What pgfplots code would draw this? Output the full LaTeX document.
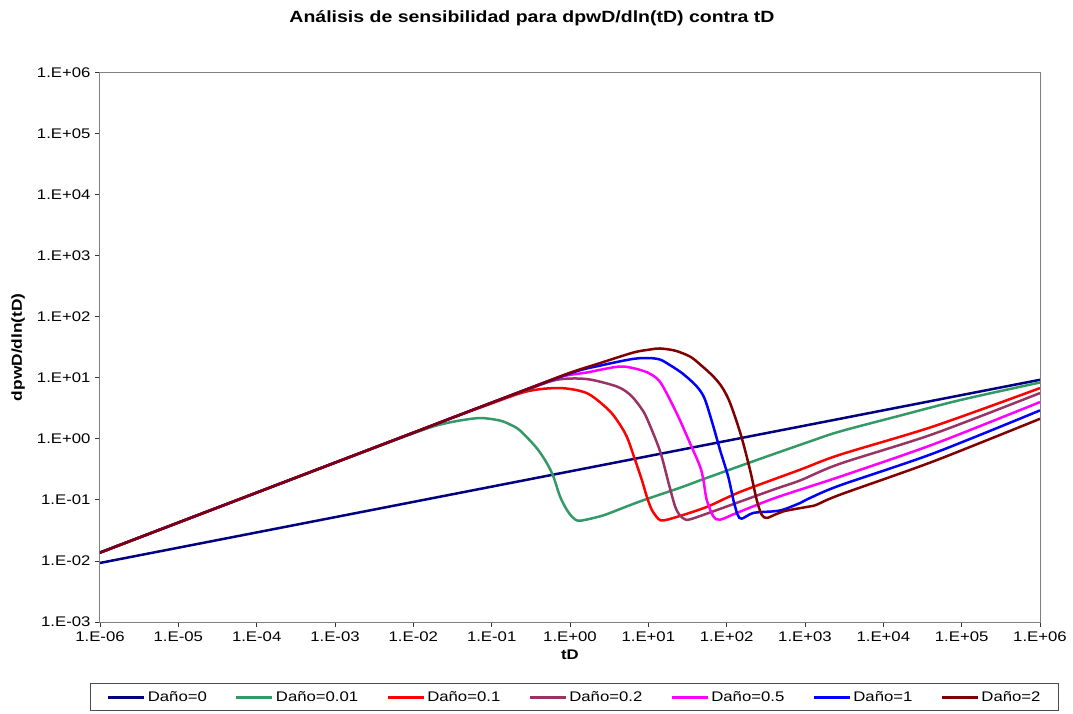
\documentclass[border=0pt]{standalone}
\usepackage{fontspec}
\setmainfont{Liberation Sans}[FakeStretch=1.2]
\usepackage{pgfplots}
\pgfplotsset{compat=1.18}
\definecolor{cA}{RGB}{0,0,128}
\definecolor{cB}{RGB}{51,153,102}
\definecolor{cC}{RGB}{255,0,0}
\definecolor{cD}{RGB}{153,51,102}
\definecolor{cE}{RGB}{255,0,255}
\definecolor{cF}{RGB}{0,0,255}
\definecolor{cG}{RGB}{128,0,0}
\begin{document}
\begin{tikzpicture}
\path[use as bounding box] (0bp,0bp) rectangle (1073bp,714bp);
\node[font=\fontsize{16.3}{19}\selectfont\bfseries] at (532bp,696bp) {Análisis de sensibilidad para dpwD/dln(tD) contra tD};
\begin{axis}[
  at={(100bp,92bp)}, anchor=south west, scale only axis,
  width=940bp, height=549.5bp,
  xmode=log, ymode=log,
  xmin=1e-6, xmax=1e6, ymin=1e-3, ymax=1e6,
  xtick={1e-6,1e-5,1e-4,1e-3,1e-2,1e-1,1,1e1,1e2,1e3,1e4,1e5,1e6},
  xticklabels={1.E-06,1.E-05,1.E-04,1.E-03,1.E-02,1.E-01,1.E+00,1.E+01,1.E+02,1.E+03,1.E+04,1.E+05,1.E+06},
  ytick={1e-3,1e-2,1e-1,1,1e1,1e2,1e3,1e4,1e5,1e6},
  yticklabels={1.E-03,1.E-02,1.E-01,1.E+00,1.E+01,1.E+02,1.E+03,1.E+04,1.E+05,1.E+06},
  xminorticks=false, yminorticks=false,
  tick pos=left, tick align=outside, major tick length=5bp,
  every tick/.style={black!80, line width=0.8bp},
  axis line style={draw=black!50, line width=1bp},
  ticklabel style={font=\fontsize{14}{16}\selectfont},
  xticklabel style={yshift=-1bp},
  yticklabel style={xshift=-1bp},
  xlabel={tD},
  ylabel={dpwD/dln(tD)},
  every axis x label/.style={at={(axis description cs:0.5,-0.06)}, anchor=center, font=\fontsize{14}{16}\selectfont\bfseries},
  every axis y label/.style={at={(axis description cs:-0.087,0.5)}, rotate=90, anchor=center, font=\fontsize{14.5}{16}\selectfont\bfseries},
  legend columns=7,
  legend style={at={(0.505,-0.111)}, anchor=north, draw=black!70, line width=0.8bp,
    font=\fontsize{14}{16}\selectfont, inner xsep=16bp, inner ysep=6bp,
    /tikz/every even column/.append style={column sep=26bp}},
  legend image code/.code={\draw[#1, line width=3bp] (0bp,0bp) -- (36bp,0bp);},
  every axis plot/.append style={line width=2.5bp, smooth, tension=0.5, no markers},
]
\addplot[cA] coordinates {(1e-6,0.00927) (1e-5,0.01648) (1e-4,0.0293) (1e-3,0.0521) (1e-2,0.0927) (1e-1,0.1648) (1,0.293) (10,0.521) (100,0.927) (1e3,1.648) (1e4,2.93) (1e5,5.21) (1e6,9.27)};
\addlegendentry{Daño=0}
\addplot[cB] coordinates {(1e-6,0.0137) (1e-5,0.0425) (1e-4,0.1315) (1e-3,0.407) (0.00316,0.708) (0.00676,1.023) (0.0180,1.596) (0.0355,1.95) (0.0710,2.19) (0.126,2.0) (0.171,1.72) (0.230,1.37) (0.376,0.706) (0.505,0.402) (0.612,0.243) (0.746,0.114) (0.908,0.0692) (1.102,0.0506) (1.343,0.0456) (2.415,0.0537) (3.24,0.0611) (7.83,0.0944) (25.4,0.158) (45.7,0.209) (55.6,0.229) (251,0.457) (1159,0.908) (2799,1.321) (16330,2.40) (1e5,4.37) (1e6,8.37)};
\addlegendentry{Daño=0.01}
\addplot[cC] coordinates {(1e-6,0.0137) (1e-5,0.0425) (1e-4,0.1315) (1e-3,0.407) (0.01,1.26) (0.0316,2.22) (0.0782,3.39) (0.280,5.97) (0.746,6.78) (1.633,5.62) (2.944,3.19) (3.945,2.056) (5.297,1.094) (6.761,0.455) (8.241,0.214) (9.55,0.114) (11.04,0.0692) (13.40,0.0490) (15.52,0.0461) (23.0,0.0525) (55.6,0.0766) (148.3,0.135) (865,0.312) (2799,0.550) (43450,1.596) (1e6,6.78)};
\addlegendentry{Daño=0.1}
\addplot[cD] coordinates {(1e-6,0.0137) (1e-5,0.0425) (1e-4,0.1315) (1e-3,0.407) (0.01,1.26) (0.1,3.91) (0.280,6.31) (0.676,9.27) (1.633,9.53) (3.945,7.21) (5.83,5.3) (7.83,3.39) (9.55,2.19) (14.09,0.631) (18.20,0.186) (21.88,0.0794) (25.1,0.0562) (29.5,0.0479) (33.9,0.0479) (55.6,0.0594) (394,0.147) (865,0.208) (2799,0.391) (43450,1.20) (1e6,5.62)};
\addlegendentry{Daño=0.2}
\addplot[cE] coordinates {(1e-6,0.0137) (1e-5,0.0425) (1e-4,0.1315) (1e-3,0.407) (0.01,1.26) (0.1,3.91) (0.316,6.88) (0.794,10.5) (1.633,12.2) (4.355,15.3) (7.83,13.5) (9.55,12.4) (14.09,8.6) (22.96,2.64) (34.0,0.853) (45.7,0.353) (50.4,0.214) (55.6,0.1007) (67.6,0.0537) (82.2,0.0474) (134.3,0.0611) (394,0.105) (1159,0.166) (2799,0.240) (43450,0.813) (1e6,4.0)};
\addlegendentry{Daño=0.5}
\addplot[cF] coordinates {(1e-6,0.0137) (1e-5,0.0425) (1e-4,0.1315) (1e-3,0.407) (0.01,1.26) (0.1,3.91) (1,11.8) (2.415,15.8) (6.43,20.4) (10.5,21.0) (14.09,19.9) (17.18,17.4) (25.4,12.6) (34.0,9.27) (44.0,6.6) (53.0,4.37) (67.6,1.60) (82.2,0.66) (104.7,0.240) (121.6,0.1007) (138.0,0.0575) (155.2,0.0492) (218.8,0.0611) (394,0.0649) (528,0.0692) (865,0.0889) (1159,0.1074) (2799,0.173) (43450,0.577) (1e6,2.92)};
\addlegendentry{Daño=1}
\addplot[cG] coordinates {(1e-6,0.0137) (1e-5,0.0425) (1e-4,0.1315) (1e-3,0.407) (0.01,1.26) (0.1,3.91) (0.316,6.88) (1,12.1) (2.415,17.4) (6.43,25.9) (10.5,29.0) (14.09,30.2) (22.0,27.8) (34.0,22.3) (45.7,16.6) (67.6,10.5) (88.0,6.9) (110.4,3.89) (151.4,1.175) (198.6,0.312) (241.5,0.1007) (279.9,0.0573) (323.6,0.0506) (414,0.0573) (524.8,0.0646) (707.9,0.0700) (1159,0.0783) (1409,0.0834) (2799,0.1216) (43450,0.427) (1e6,2.13)};
\addlegendentry{Daño=2}
\end{axis}
\end{tikzpicture}
\end{document}
